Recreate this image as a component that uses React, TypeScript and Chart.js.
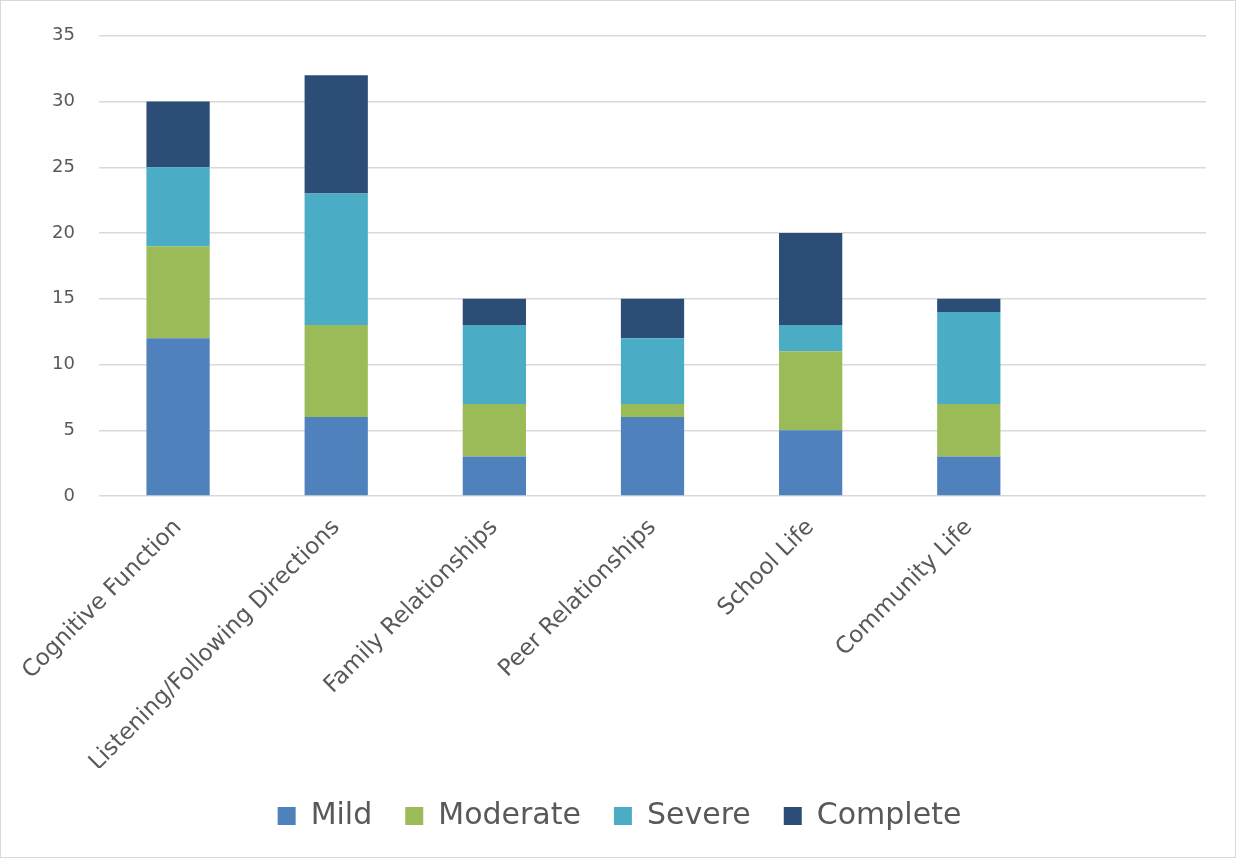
import React, { useEffect, useRef } from "react";
import { Chart, registerables } from "chart.js";

Chart.register(...registerables);

// Categories (the last slot is left empty on the axis)
const categories = [
  "Cognitive Function",
  "Listening/Following Directions",
  "Family Relationships",
  "Peer Relationships",
  "School Life",
  "Community Life",
  "",
];

// Number of responses per severity level
const mild = [12, 6, 3, 6, 5, 3, null];
const moderate = [7, 7, 4, 1, 6, 4, null];
const severe = [6, 10, 6, 5, 2, 7, null];
const complete = [5, 9, 2, 3, 7, 1, null];

const yTicks = [0, 5, 10, 15, 20, 25, 30, 35];

const FONT = "'DejaVu Sans', sans-serif";
const TEXT = "#595959";
const GRID = "#d9d9d9";

// Nudge the legend so it is centred on the whole canvas rather than the padded area
const legendShift = {
  id: "legendShift",
  afterLayout(chart: any) {
    const lg = chart.legend;
    if (lg) {
      lg.left += 6;
      lg.right += 6;
    }
  },
};

export default function App() {
  const canvasRef = useRef<HTMLCanvasElement | null>(null);

  useEffect(() => {
    const ctx = canvasRef.current;
    if (!ctx) return;
    const series = [
      { label: "Mild", data: mild, color: "#4f81bd" },
      { label: "Moderate", data: moderate, color: "#9bbb59" },
      { label: "Severe", data: severe, color: "#4bacc6" },
      { label: "Complete", data: complete, color: "#2c4d75" },
    ];
    const chart = new Chart(ctx, {
      type: "bar",
      plugins: [legendShift],
      data: {
        labels: categories,
        datasets: series.map((s) => ({
          label: s.label,
          data: s.data,
          backgroundColor: s.color,
          borderWidth: 0,
          barPercentage: 0.4,
          categoryPercentage: 1,
        })),
      },
      options: {
        animation: false,
        responsive: true,
        maintainAspectRatio: false,
        layout: { padding: { top: 28, right: 29, bottom: 16, left: 20 } },
        plugins: {
          tooltip: { enabled: false },
          legend: {
            position: "bottom",
            labels: {
              boxWidth: 18,
              boxHeight: 18,
              padding: 33,
              color: TEXT,
              font: { family: FONT, size: 30 },
            },
          },
        },
        scales: {
          x: {
            stacked: true,
            grid: { display: false },
            border: { display: false },
            ticks: {
              minRotation: 45,
              maxRotation: 45,
              autoSkip: false,
              padding: 10,
              color: TEXT,
              font: { family: FONT, size: 23 },
            },
            afterFit: (scale: any) => {
              scale.height = 272;
            },
          },
          y: {
            stacked: true,
            min: 0,
            max: 35,
            afterBuildTicks: (scale: any) => {
              scale.ticks = yTicks.map((v) => ({ value: v }));
            },
            grid: { color: GRID, lineWidth: 1.5, drawTicks: false },
            border: { display: false },
            ticks: {
              padding: 24,
              color: TEXT,
              font: { family: FONT, size: 18 },
            },
            afterFit: (scale: any) => {
              scale.width = 78;
            },
          },
        },
      },
    });
    return () => chart.destroy();
  }, []);

  return (
    <div
      style={{
        position: "fixed",
        left: 0,
        top: 0,
        width: 1236,
        height: 858,
        boxSizing: "border-box",
        border: "1px solid #d9d9d9",
        background: "#fff",
      }}
    >
      <div style={{ position: "relative", width: "100%", height: "100%" }}>
        <canvas ref={canvasRef} />
      </div>
    </div>
  );
}
